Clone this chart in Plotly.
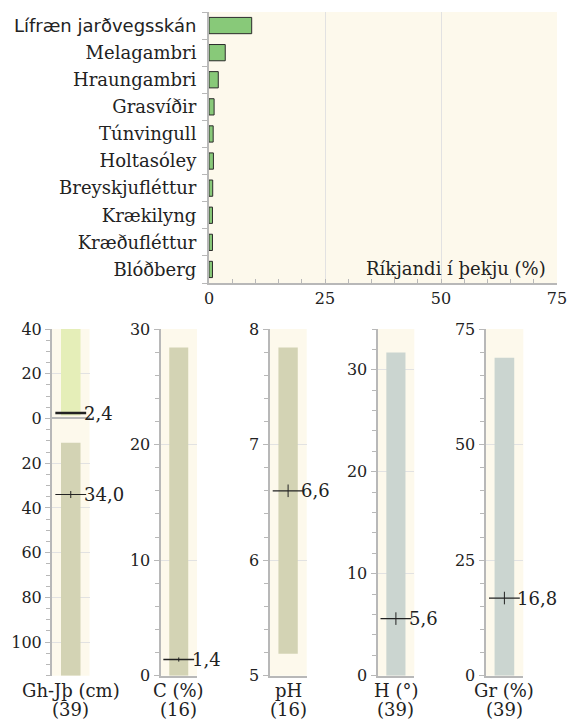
import plotly.graph_objects as go

# --- Dominant cover (%) per species / surface type ---
species = ["Lífræn jarðvegsskán", "Melagambri", "Hraungambri", "Grasvíðir",
           "Túnvingull", "Holtasóley", "Breyskjufléttur", "Krækilyng",
           "Kræðufléttur", "Blóðberg"]
cover = [9.2, 3.5, 2.0, 1.1, 0.9, 0.95, 0.8, 0.75, 0.75, 0.75]

# --- Site variables: range (min, max) and mean ---
panel_names = ["Gh-Jþ (cm)", "C (%)", "pH", "H (°)", "Gr (%)"]
panel_n = [39, 16, 16, 39, 39]
# vegetation height above ground (Gh) and soil depth (Jþ), both in cm
gh_range = [1.3, 40.0]
gh_mean = 2.4
jd_range = [10.8, 115.0]
jd_mean = 34.0
c_range = [0.0, 28.4]
c_mean = 1.4
ph_range = [5.19, 7.84]
ph_mean = 6.6
h_range = [0.0, 31.7]
h_mean = 5.6
gr_range = [0.0, 68.8]
gr_mean = 16.8

SERIF = "DejaVu Serif"
SANS = "DejaVu Sans"
CREAM = "#fdf9ec"
AXIS = "#b8b8b8"
GRID = "#e2e2e2"
INK = "#222222"
OLIVE = "#d3d3b4"
LIME = "#e5eeb8"
SLATE = "#cbd5d0"

W, H = 568, 722


def px(v, total):
    return v / total


fig = go.Figure()

# ---------- top: horizontal bar chart ----------
ticktext = [f'<span style="font-family:{SANS};font-size:18px">{species[0]}</span>'] + species[1:]
fig.add_trace(go.Bar(
    y=species, x=cover, orientation="h", width=0.6,
    marker=dict(color="#88c979", line=dict(color="#2b2b2b", width=1)),
    xaxis="x", yaxis="y", showlegend=False, hoverinfo="skip",
))

fig.update_layout(
    xaxis=dict(domain=[px(209, W), px(557, W)], anchor="y", range=[0, 75],
               automargin=False,
               tickvals=[0, 25, 50, 75], ticks="inside", ticklen=4,
               tickcolor=AXIS, showline=True, linecolor=AXIS, linewidth=2,
               showgrid=True, gridcolor=GRID, gridwidth=1,
               minor=dict(dtick=5, ticks="inside", ticklen=4, tickcolor=AXIS, showgrid=False),
               tickfont=dict(family=SERIF, size=16, color=INK), zeroline=False),
    yaxis=dict(domain=[1 - px(283, H), 1 - px(12, H)], anchor="x",
               automargin=False,
               autorange="reversed", categoryorder="array", categoryarray=species,
               tickvals=species, ticktext=ticktext, ticklabelstandoff=7,
               ticks="outside", tickson="boundaries", ticklen=5, tickcolor=AXIS,
               showline=True, linecolor=AXIS, linewidth=2, showgrid=False,
               tickfont=dict(family=SERIF, size=18, color=INK)),
)

fig.add_annotation(x=px(548, W), y=1 - px(268, H), xref="paper", yref="paper",
                   text="Ríkjandi í þekju (%)", showarrow=False, xanchor="right",
                   yanchor="middle", font=dict(family=SERIF, size=18, color=INK))

# ---------- bottom: five range panels ----------
strips = [(52, 89.5), (160.5, 197), (269.5, 306.7), (377.5, 414.3), (485.5, 523.3)]
ydom = [1 - px(675.7, H), 1 - px(329, H)]

panels = [
    dict(rng=[-115, 40], tickvals=[40, 20, 0, -20, -40, -60, -80, -100],
         ticktext=["40", "20", "0", "20", "40", "60", "80", "100"], minor=5,
         bars=[(gh_range, LIME), ([-jd_range[1], -jd_range[0]], OLIVE)],
         means=[(gh_mean, gh_mean, 0, 2.5), (-jd_mean, jd_mean, 5, 1.2)], bottom_line=False),
    dict(rng=[0, 30], tickvals=[0, 10, 20, 30], ticktext=None, minor=2,
         bars=[(c_range, OLIVE)], means=[(c_mean, c_mean, 3, 1.5)], bottom_line=True),
    dict(rng=[5, 8], tickvals=[5, 6, 7, 8], ticktext=None, minor=0.2,
         bars=[(ph_range, OLIVE)], means=[(ph_mean, ph_mean, 9, 1.2)], bottom_line=True),
    dict(rng=[0, 34], tickvals=[0, 10, 20, 30], ticktext=None, minor=2,
         bars=[(h_range, SLATE)], means=[(h_mean, h_mean, 9, 1.2)], bottom_line=True),
    dict(rng=[0, 75], tickvals=[0, 25, 50, 75], ticktext=None, minor=5,
         bars=[(gr_range, SLATE)], means=[(gr_mean, gr_mean, 9, 1.2)], bottom_line=True),
]

for i, (p, (x0, x1)) in enumerate(zip(panels, strips)):
    k = i + 2
    xa, ya = f"x{k}", f"y{k}"
    for (lo, hi), col in p["bars"]:
        fig.add_trace(go.Bar(x=[0.5], y=[hi - lo], base=[lo], width=0.52,
                             marker=dict(color=col, line=dict(width=0)),
                             xaxis=xa, yaxis=ya, showlegend=False, hoverinfo="skip"))
    for yv, val, vlen, lw in p["means"]:
        fig.add_trace(go.Scatter(x=[0.5], y=[yv], mode="markers",
                                 marker=dict(symbol="line-ew", size=22,
                                             line=dict(color=INK, width=lw)),
                                 xaxis=xa, yaxis=ya, showlegend=False, hoverinfo="skip"))
        if vlen:
            fig.add_trace(go.Scatter(x=[0.5], y=[yv], mode="markers",
                                     marker=dict(symbol="line-ns", size=vlen,
                                                 line=dict(color=INK, width=1)),
                                     xaxis=xa, yaxis=ya, showlegend=False, hoverinfo="skip"))
        fig.add_annotation(x=0.5, y=yv, xref=xa, yref=ya, xanchor="left", xshift=11,
                           text=f"{val:.1f}".replace(".", ","), showarrow=False,
                           font=dict(family=SERIF, size=18, color=INK))
    # panel caption: variable name and number of sites on two lines
    fig.add_annotation(x=0.5, y=1 - px(690, H), xref=xa, yref="paper",
                       text=panel_names[i], showarrow=False, yanchor="middle",
                       font=dict(family=SERIF, size=18, color=INK))
    fig.add_annotation(x=0.5, y=1 - px(709, H), xref=xa, yref="paper",
                       text=f"({panel_n[i]})", showarrow=False, yanchor="middle",
                       font=dict(family=SERIF, size=18, color=INK))

    yax = dict(domain=ydom, anchor=xa, range=p["rng"], tickvals=p["tickvals"],
               automargin=False,
               ticks="outside", ticklen=5, tickcolor=AXIS,
               showline=True, linecolor=AXIS, linewidth=2,
               showgrid=True, gridcolor=GRID, gridwidth=1,
               minor=dict(dtick=p["minor"], tick0=p["rng"][0] if i else 0,
                          ticks="outside", ticklen=4, tickcolor=AXIS, showgrid=False),
               tickfont=dict(family=SERIF, size=16, color=INK),
               zeroline=(i == 0), zerolinecolor=AXIS, zerolinewidth=2)
    if p["ticktext"]:
        yax["ticktext"] = p["ticktext"]
    xax = dict(domain=[px(x0, W), px(x1, W)], anchor=ya, range=[0, 1],
               automargin=False,
               showticklabels=False, ticks="", showgrid=False, zeroline=False,
               showline=p["bottom_line"], linecolor=AXIS, linewidth=2)
    fig.update_layout(**{f"xaxis{k}": xax, f"yaxis{k}": yax})

fig.update_layout(width=W, height=H, margin=dict(l=0, r=0, t=0, b=0, autoexpand=False),
                  paper_bgcolor="white", plot_bgcolor=CREAM, barmode="overlay",
                  font=dict(family=SERIF, color=INK))

fig.write_html("out.html")
